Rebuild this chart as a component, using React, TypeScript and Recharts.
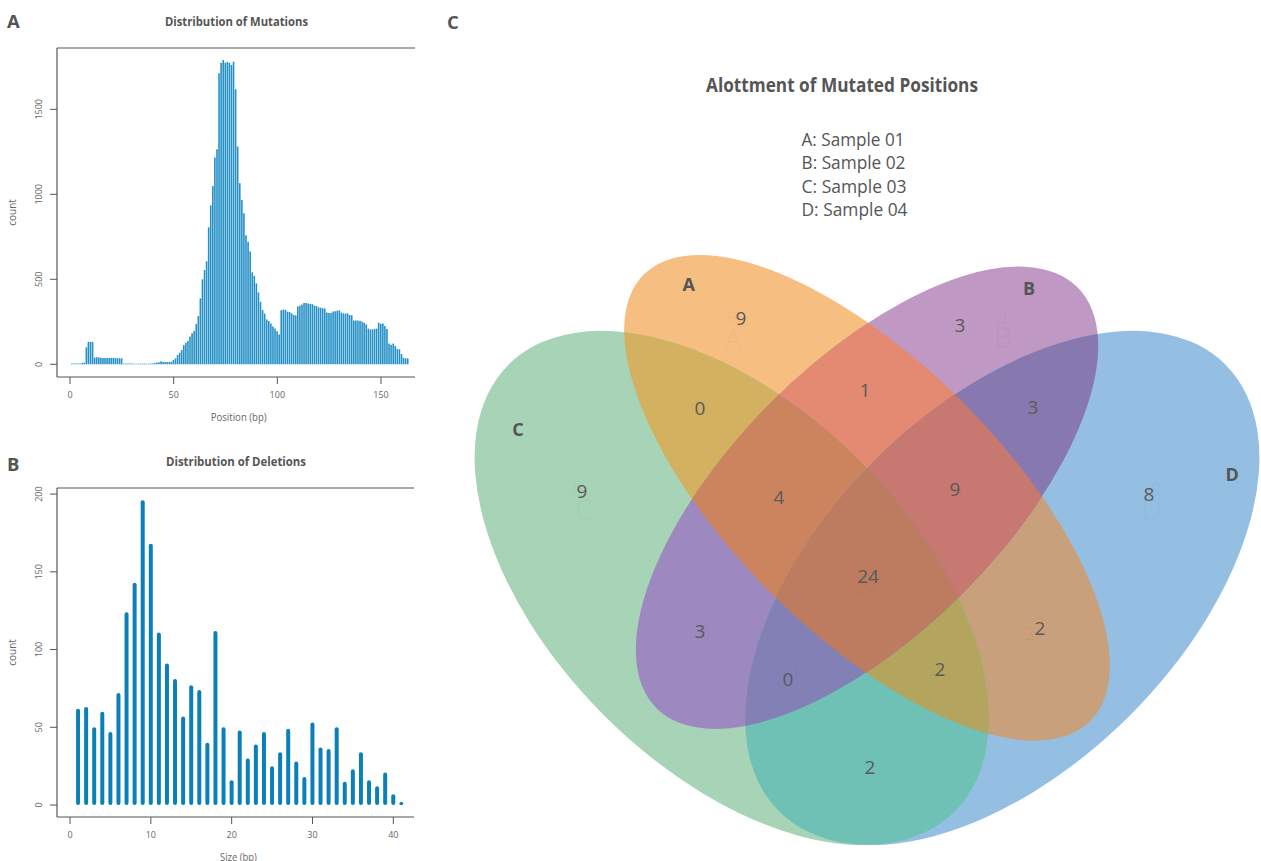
import React from 'react';
import { BarChart, Bar, XAxis, YAxis, ScatterChart, Scatter } from 'recharts';

const FONT = '"Open Sans", "Noto Sans", sans-serif';

// panel A: counts per position (bp 1..163)
const mutationCounts = [
  4, 4, 4, 4, 4, 8, 10, 100, 132, 132, 132,
  40, 42, 40, 38, 37, 37, 37, 37, 37, 37, 36, 36, 35, 35,
  4, 4, 4, 4, 4, 3, 3, 3, 4, 4, 4, 3, 3, 5, 5,
  8, 10, 12, 18, 14, 13, 13, 14,
  15, 25, 35, 55, 68, 84, 113, 127, 137, 163, 182, 196,
  237, 284, 388, 500, 555, 606, 806, 935, 1049, 1216, 1265,
  1712, 1774, 1790, 1774, 1780, 1774, 1761, 1780, 1618,
  1280, 1065, 967, 888, 759, 721, 663, 541, 521, 476, 423, 368, 319,
  298, 264, 255, 240, 222, 210, 195, 175,
  318, 322, 320, 310, 308, 300, 290, 288,
  340, 345, 352, 360, 360, 357, 355, 354, 345, 343, 335, 333, 330, 328,
  305, 302, 302, 310, 312, 315, 318, 303, 300, 298, 300, 290, 288,
  258, 258, 258, 256, 250, 245, 235, 210, 205, 205, 208, 210,
  245, 238, 240, 225, 208,
  122, 115, 122, 108, 90, 88, 60, 38, 35, 35,
];
const mutationTicksX = [0, 50, 100, 150];
const mutationTicksY = [0, 500, 1000, 1500];

// panel B: counts per deletion size (bp 1..41)
const deletionCounts = [
  62, 63, 50, 60, 47, 72, 124, 143, 196, 168, 111, 91, 81, 57, 77, 74, 40, 112, 50, 16,
  48, 30, 39, 47, 25, 34, 49, 28, 18, 53, 37, 36, 50, 15, 23, 34, 16, 12, 21, 7, 2,
];
const deletionTicksX = [0, 10, 20, 30, 40];
const deletionTicksY = [0, 50, 100, 150, 200];

// panel C: venn counts
const vennSets = ['A', 'B', 'C', 'D'];
const regionSets = ['A', 'B', 'C', 'D', 'AB', 'AC', 'AD', 'BC', 'BD', 'CD', 'ABC', 'ABD', 'ACD', 'BCD', 'ABCD'];
const regionCounts = [9, 3, 9, 8, 1, 0, 2, 3, 3, 2, 4, 9, 2, 0, 24];
const sampleNames = ['Sample 01', 'Sample 02', 'Sample 03', 'Sample 04'];

// venn layout (unit square, y up)
const ellipseX = [0.5, 0.5, 0.35, 0.65];
const ellipseY = [0.57, 0.57, 0.47, 0.47];
const ellipseA = [0.35, 0.33, 0.35, 0.35];
const ellipseB = [0.15, 0.15, 0.2, 0.2];
const ellipseRot = [135, 45, 135, 45];
const labelX = [0.3603, 0.6031, 0.184, 0.8126, 0.4978, 0.3149, 0.6918, 0.3149, 0.684, 0.5033, 0.4024, 0.5976, 0.5809, 0.4124, 0.5011];
const labelY = [0.7692, 0.7615, 0.5775, 0.5742, 0.6895, 0.6696, 0.4256, 0.4223, 0.6707, 0.2715, 0.5708, 0.5797, 0.3802, 0.3691, 0.4832];
const ghostX = [0.35, 0.65, 0.18, 0.82, 0.5, 0.31, 0.68, 0.32, 0.69, 0.5, 0.4, 0.6, 0.575, 0.425, 0.5];
const ghostY = [0.77, 0.77, 0.58, 0.58, 0.69, 0.67, 0.42, 0.42, 0.67, 0.28, 0.58, 0.58, 0.38, 0.38, 0.47];
const catX = [0.3023, 0.6796, 0.1131, 0.9047];
const catY = [0.8059, 0.802, 0.6451, 0.5952];
const catGhostX = [0.3514, 0.6508, 0.1863, 0.816];
const catGhostY = [0.7449, 0.7471, 0.5564, 0.5564];

const REGION_COLORS: Record<string, string> = {
  A: '#f7be82', B: '#bf98c3', C: '#a7d3b7', D: '#94bfe2',
  AB: '#e48a72', AC: '#d3b160', AD: '#c8a07b', BC: '#9d89bf', BD: '#8779b0', CD: '#6fc1b6',
  ABC: '#cc845f', ABD: '#c77871', ACD: '#b3a45e', BCD: '#8380b6', ABCD: '#bd7c5f',
};

const mutationData = mutationCounts.map((count, i) => ({ pos: i + 1, count }));
const deletionData = deletionCounts.map((count, i) => ({ size: i + 1, count }));
const ellipseData = vennSets.map((set, i) => ({
  set, u: ellipseX[i], v: ellipseY[i], a: ellipseA[i], b: ellipseB[i], rot: ellipseRot[i],
}));
const regionData = regionSets.map((set, i) => ({ set, count: regionCounts[i], u: labelX[i], v: labelY[i] }));
const ghostData = regionSets.map((set, i) => ({ text: String(regionCounts[i]), u: ghostX[i], v: ghostY[i] }));
const catData = vennSets.map((set, i) => ({ text: set, u: catX[i], v: catY[i] }));
const catGhostData = vennSets.map((set, i) => ({ text: set, u: catGhostX[i], v: catGhostY[i] }));

const VENN_W = 821;
const VENN_H = 861;
const VENN_XD: [number, number] = [0.0266, 0.9368];
const VENN_YD: [number, number] = [0.1673, 1.1218];
const PX = VENN_W / (VENN_XD[1] - VENN_XD[0]);

const AXIS = '#555';
const tickStyle = { fontSize: 9, fill: '#666', fontFamily: FONT };
const axisLineStyle = { stroke: AXIS, strokeWidth: 1.2 };
const tickLineStyle = { stroke: AXIS, strokeWidth: 1 };

const RotatedTick = (props: any) => (
  <text
    transform={`translate(${props.x},${props.y}) rotate(-90)`}
    textAnchor="middle"
    fontSize={9}
    fill="#666"
    fontFamily={FONT}
  >
    {props.payload.value}
  </text>
);

// each ellipse only defines a clip path, the regions paint through them
const EllipseClip = (props: any) => {
  const { cx, cy, payload } = props;
  return (
    <defs>
      <clipPath id={`venn-clip-${payload.set}`}>
        <ellipse
          cx={cx}
          cy={cy}
          rx={payload.a * PX}
          ry={payload.b * PX}
          transform={`rotate(${-payload.rot} ${cx} ${cy})`}
        />
      </clipPath>
    </defs>
  );
};

const RegionFill = (props: any) => {
  const set: string = props.payload.set;
  let node = <rect x={0} y={0} width={VENN_W} height={VENN_H} fill={REGION_COLORS[set]} />;
  set.split('').forEach((s) => {
    node = <g clipPath={`url(#venn-clip-${s})`}>{node}</g>;
  });
  return <g>{node}</g>;
};

const CountLabel = (props: any) => (
  <text x={props.cx} y={props.cy} dy="0.36em" textAnchor="middle" fontSize={19} fill="#5a5a5a" fontFamily={FONT}>
    {props.payload.count}
  </text>
);

const GhostLabel = (props: any) => (
  <text x={props.cx} y={props.cy} dy="0.36em" textAnchor="middle" fontSize={19} fill="#555" fillOpacity={0.06} fontFamily={FONT}>
    {props.payload.text}
  </text>
);

const CatLabel = (props: any) => (
  <text x={props.cx} y={props.cy} dy="0.36em" textAnchor="middle" fontSize={18} fontWeight={700} fill="#555" fontFamily={FONT}>
    {props.payload.text}
  </text>
);

const CatGhost = (props: any) => (
  <text x={props.cx} y={props.cy} dy="0.36em" textAnchor="middle" fontSize={29} fill="#555" fillOpacity={0.05} fontFamily={FONT}>
    {props.payload.text}
  </text>
);

export default function App() {
  return (
    <div style={{ position: 'absolute', left: 0, top: 0, width: 1261, height: 861, background: '#fff', overflow: 'hidden' }}>
      <div style={{ position: 'absolute', left: 0, top: 0 }}>
        <BarChart width={415} height={430} data={mutationData} margin={{ top: 46, right: 0, bottom: 13, left: 7 }}>
          <XAxis
            dataKey="pos"
            type="number"
            domain={[-6.27, 166.4]}
            allowDataOverflow
            ticks={mutationTicksX}
            height={40}
            tickSize={7}
            tickMargin={8}
            tick={tickStyle}
            axisLine={axisLineStyle}
            tickLine={tickLineStyle}
          />
          <XAxis
            xAxisId="top"
            dataKey="pos"
            orientation="top"
            type="number"
            domain={[-6.27, 166.4]}
            allowDataOverflow
            height={2}
            tick={false}
            tickLine={false}
            axisLine={axisLineStyle}
          />
          <YAxis
            type="number"
            domain={[-74.7, 1860.6]}
            allowDataOverflow
            ticks={mutationTicksY}
            width={50}
            tickSize={7}
            tickMargin={8}
            tick={<RotatedTick />}
            axisLine={axisLineStyle}
            tickLine={tickLineStyle}
          />
          <Bar dataKey="count" fill="#2490c5" barSize={1.6} isAnimationActive={false} />
        </BarChart>
      </div>

      <div style={{ position: 'absolute', left: 0, top: 440 }}>
        <BarChart width={414} height={421} data={deletionData} margin={{ top: 46, right: 0, bottom: 4, left: 7 }}>
          <XAxis
            dataKey="size"
            type="number"
            domain={[-1.61, 42.56]}
            allowDataOverflow
            ticks={deletionTicksX}
            height={40}
            tickSize={7}
            tickMargin={8}
            tick={tickStyle}
            axisLine={axisLineStyle}
            tickLine={tickLineStyle}
          />
          <XAxis
            xAxisId="top"
            dataKey="size"
            orientation="top"
            type="number"
            domain={[-1.61, 42.56]}
            allowDataOverflow
            height={2}
            tick={false}
            tickLine={false}
            axisLine={axisLineStyle}
          />
          <YAxis
            type="number"
            domain={[-7.7, 203.9]}
            allowDataOverflow
            ticks={deletionTicksY}
            width={50}
            tickSize={7}
            tickMargin={8}
            tick={<RotatedTick />}
            axisLine={axisLineStyle}
            tickLine={tickLineStyle}
          />
          <Bar dataKey="count" fill="#0a7fb8" barSize={4} radius={2} isAnimationActive={false} />
        </BarChart>
      </div>

      <div style={{ position: 'absolute', left: 440, top: 0 }}>
        <ScatterChart width={VENN_W} height={VENN_H} margin={{ top: 0, right: 0, bottom: 0, left: 0 }}>
          <XAxis dataKey="u" type="number" domain={VENN_XD} allowDataOverflow hide />
          <YAxis dataKey="v" type="number" domain={VENN_YD} allowDataOverflow hide />
          <Scatter data={ellipseData} shape={EllipseClip} isAnimationActive={false} />
          <Scatter data={regionData} shape={RegionFill} isAnimationActive={false} />
          <Scatter data={catGhostData} shape={CatGhost} isAnimationActive={false} />
          <Scatter data={ghostData} shape={GhostLabel} isAnimationActive={false} />
          <Scatter data={regionData} shape={CountLabel} isAnimationActive={false} />
          <Scatter data={catData} shape={CatLabel} isAnimationActive={false} />
        </ScatterChart>
      </div>

      <svg width={1261} height={861} style={{ position: 'absolute', left: 0, top: 0, pointerEvents: 'none' }}>
        <g fontFamily={FONT} fill="#555">
          <text x={7} y={28.3} fontSize={18.5} fontWeight={700}>A</text>
          <text x={7} y={470.7} fontSize={18.5} fontWeight={700}>B</text>
          <text x={447} y={29.3} fontSize={18.5} fontWeight={700}>C</text>

          <text x={165} y={26} fontSize={12} fontWeight={700} textLength={143} lengthAdjust="spacingAndGlyphs">
            Distribution of Mutations
          </text>
          <text x={166} y={466} fontSize={12} fontWeight={700} textLength={140} lengthAdjust="spacingAndGlyphs">
            Distribution of Deletions
          </text>

          <g fill="#666" fontSize={10}>
            <text x={210.7} y={420.7} textLength={56} lengthAdjust="spacingAndGlyphs">Position (bp)</text>
            <text x={220} y={860.5} textLength={36.7} lengthAdjust="spacingAndGlyphs">Size (bp)</text>
            <text transform="translate(16,212.5) rotate(-90)" textAnchor="middle">count</text>
            <text transform="translate(16,652.5) rotate(-90)" textAnchor="middle">count</text>
          </g>

          <text x={706} y={91.7} fontSize={20} fontWeight={700} textLength={272} lengthAdjust="spacingAndGlyphs">
            Alottment of Mutated Positions
          </text>
          {sampleNames.map((name, i) => (
            <text
              key={name}
              x={801.5}
              y={145.7 + i * 23.45}
              fontSize={19}
              textLength={103 + i}
              lengthAdjust="spacingAndGlyphs"
            >
              {`${vennSets[i]}: ${name}`}
            </text>
          ))}
        </g>
      </svg>
    </div>
  );
}
